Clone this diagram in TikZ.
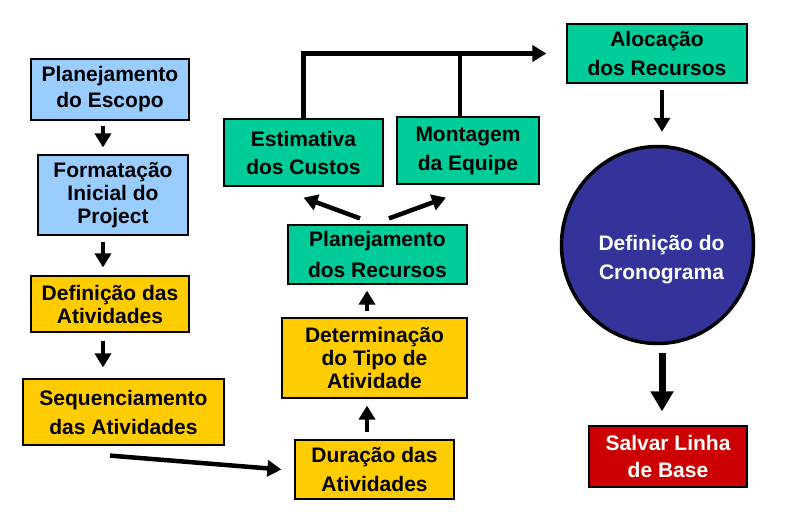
\documentclass[tikz,border=0pt]{standalone}
\usepackage{fontspec}
\setmainfont{Liberation Sans}
\usepackage[rgb]{xcolor}
\usepackage{tikz}
\usetikzlibrary{arrows.meta,shapes.geometric}

\definecolor{azulclaro}{HTML}{99CCFF}
\definecolor{amarelo}{HTML}{FFCC00}
\definecolor{verde}{HTML}{00CC99}
\definecolor{azulescuro}{HTML}{333399}
\definecolor{vermelho}{HTML}{CC0000}

\tikzset{
  caixa/.style={draw=black, line width=1.2pt, align=center, inner sep=0pt},
  linhas/.style={font=\bfseries\fontsize{21}{#1}\selectfont},
  seta/.style={line width=4.5pt, -{Triangle[width=16pt,length=14pt]}},
  setagrossa/.style={line width=7pt, -{Triangle[width=22pt,length=20pt]}}
}

\begin{document}
\begin{tikzpicture}[x=1pt, y=-1pt]
\useasboundingbox (0,0) rectangle (789,519);

% fluxo do cronograma, da esquerda para a direita

%% coluna da esquerda
\path
(110,89.5) node[caixa, linhas=26, fill=azulclaro, minimum width=158pt, minimum height=61pt] (escopo) {Planejamento\\do Escopo}
(113,195) node[caixa, linhas=23, fill=azulclaro, minimum width=150pt, minimum height=80pt] (formatacao) {Formatação\\Inicial do\\Project}
(110,304) node[caixa, linhas=23, fill=amarelo, minimum width=158pt, minimum height=56pt] (definicao) {Definição das\\Atividades}
(123.5,412) node[caixa, linhas=29, fill=amarelo, minimum width=201pt, minimum height=66pt] (sequencia) {Sequenciamento\\das Atividades};

%% coluna do meio
\path
(374.5,469.5) node[caixa, linhas=29, fill=amarelo, minimum width=159pt, minimum height=59pt] (duracao) {Duração das\\Atividades}
(374.5,358) node[caixa, linhas=23, fill=amarelo, minimum width=185pt, minimum height=80pt] (tipo) {Determinação\\do Tipo de\\Atividade}
(377.5,254.5) node[caixa, linhas=31, fill=verde, minimum width=179pt, minimum height=59pt] (recursos) {Planejamento\\dos Recursos}
(303.5,152.5) node[caixa, linhas=28, fill=verde, minimum width=159pt, minimum height=67pt] (custos) {Estimativa\\dos Custos}
(468,150.5) node[caixa, linhas=29, fill=verde, minimum width=142pt, minimum height=67pt] (equipe) {Montagem\\da Equipe};

%% coluna da direita
\path
(657,53.5) node[caixa, linhas=29, fill=verde, minimum width=180pt, minimum height=59pt] (alocacao) {Alocação\\dos Recursos}
(657.5,245) node[ellipse, draw=black, line width=3.5pt, fill=azulescuro, minimum width=192pt, minimum height=197pt,
  label={[linhas=29, text=white, align=center, shift={(4pt,-15pt)}]center:{Definição do\\Cronograma}}] (cronograma) {}
(668,456.5) node[caixa, linhas=27, fill=vermelho, text=white, minimum width=158pt, minimum height=61pt] (baseline) {Salvar Linha\\de Base};

%% setas
\draw[seta, shorten <=5pt, shorten >=7pt] ([xshift=-7pt]escopo.south) -- ([xshift=-10pt]formatacao.north);
\draw[seta, shorten <=6pt, shorten >=8pt] ([xshift=-10pt]formatacao.south) -- ([xshift=-7pt]definicao.north);
\draw[seta, shorten <=8pt, shorten >=11pt] ([xshift=-7pt]definicao.south) -- ([xshift=-20.5pt]sequencia.north);
\draw[seta] ([xshift=-13.5pt,yshift=-10pt]sequencia.south) -- ([xshift=-13pt]duracao.west);
\draw[seta, shorten <=7pt, shorten >=7pt] ([xshift=-7.5pt]duracao.north) -- ([xshift=-7.5pt]tipo.south);
\draw[seta, shorten <=6pt, shorten >=6pt] ([xshift=-7.5pt]tipo.north) -- ([xshift=-10.5pt]recursos.south);
\draw[seta] ([xshift=-17.5pt,yshift=6pt]recursos.north) -- ([yshift=-11pt]custos.south);
\draw[seta] ([xshift=11.5pt,yshift=6pt]recursos.north) -- ([xshift=-22pt,yshift=-13pt]equipe.south);

%% linha de cima
\draw[seta, shorten >=20pt] (custos.north) |- (alocacao.west);
\coordinate (juncao) at ([xshift=-8pt]equipe.north);
\draw[line width=4.5pt] (juncao) -- (juncao |- alocacao.west);

\draw[seta, shorten <=6pt, shorten >=13pt] ([xshift=5pt]alocacao.south) -- ([xshift=4.5pt]cronograma.north);
\draw[setagrossa, shorten <=8pt, shorten >=14pt] ([xshift=4.5pt]cronograma.south) -- ([xshift=-6pt]baseline.north);

\end{tikzpicture}
\end{document}
